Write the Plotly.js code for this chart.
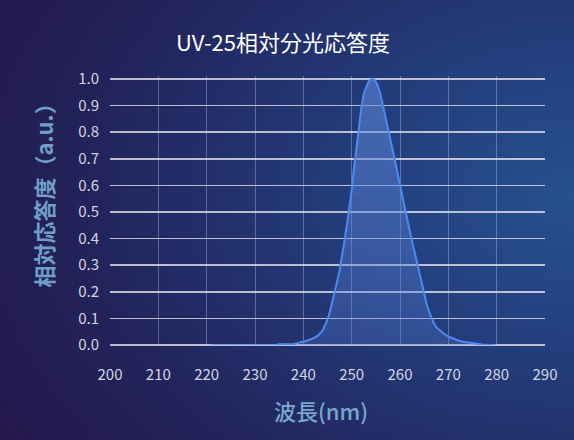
<!DOCTYPE html>
<html>
<head>
<meta charset="utf-8">
<script src="https://cdn.plot.ly/plotly-3.0.1.min.js"></script>
<style>
html, body { margin:0; padding:0; width:574px; height:440px; overflow:hidden; }
body { background: radial-gradient(ellipse 120% 110% at 100% 45%, #27508f 0%, #233c7a 35%, #22245c 70%, #25164a 100%); }
#chart { width:574px; height:440px; }
</style>
</head>
<body>
<div id="chart"></div>
<script>
const wavelength = [221,225,230,234,235,238,239,240,241,242,243,244,244.5,245,245.5,246,246.5,247,247.5,248,248.5,249,249.5,250,250.5,251,251.5,252,252.5,253,253.5,254,254.5,255,255.5,256,256.5,257,257.5,258,258.5,259,259.5,260,260.5,261,261.5,262,262.5,263,263.5,264,264.5,265,265.5,266,266.5,267,267.5,268,269,270,271,272,273,274,275,276,277,278,279,280];
const response = [-0.002,-0.002,-0.002,-0.001,0.003,0.004,0.008,0.012,0.018,0.025,0.035,0.055,0.072,0.095,0.125,0.16,0.2,0.24,0.28,0.33,0.39,0.45,0.51,0.58,0.665,0.74,0.82,0.893,0.945,0.97,0.99,0.998,1.0,0.99,0.97,0.94,0.9,0.86,0.815,0.77,0.73,0.69,0.645,0.6,0.56,0.52,0.475,0.43,0.39,0.35,0.31,0.265,0.225,0.19,0.155,0.125,0.1,0.082,0.067,0.058,0.043,0.032,0.023,0.017,0.012,0.009,0.006,0.004,0.002,0.001,-0.001,-0.002];
const titleText = 'UV-25相対分光応答度';
const xTitle = '波長(nm)';
const yTitle = '相対応答度（a.u.）';

const font = '"Noto Sans CJK JP", "Noto Sans", sans-serif';

const trace = {
  x: wavelength, y: response, type: 'scatter', mode: 'lines',
  line: {color: '#4d8af0', width: 2},
  fill: 'tozeroy',
  fillgradient: {type: 'vertical', start: 0, stop: 1,
    colorscale: [[0, 'rgba(80,120,210,0.30)'], [1, 'rgba(100,140,222,0.58)']]},
  hoverinfo: 'skip'
};

const layout = {
  width: 574, height: 440,
  paper_bgcolor: 'rgba(0,0,0,0)', plot_bgcolor: 'rgba(0,0,0,0)',
  margin: {l: 110, r: 29, t: 76, b: 95},
  font: {family: font, color: '#d4d5e0', size: 15},
  showlegend: false,
  title: {text: titleText, x: 0.493, xanchor: 'center', y: 0.902, yanchor: 'middle',
          font: {family: font, size: 22, color: '#ffffff'}},
  xaxis: {range: [200, 290], dtick: 10, tick0: 200, showgrid: true,
          gridcolor: 'rgba(255,255,255,0.28)', gridwidth: 1, zeroline: false, showline: false,
          ticks: '', ticklabelstandoff: 19, tickfont: {size: 15, color: '#d4d5e0'}},
  yaxis: {range: [0, 1.0113], tickvals: [0,0.1,0.2,0.3,0.4,0.5,0.6,0.7,0.8,0.9,1.0], tickformat: '.1f', showgrid: true,
          gridcolor: 'rgba(225,225,235,0.8)', gridwidth: 1.5, zeroline: true,
          zerolinecolor: 'rgba(225,225,235,0.8)', zerolinewidth: 1.5, showline: false,
          ticks: '', ticklabelstandoff: 10, tickfont: {size: 15, color: '#d4d5e0'}},
  annotations: [
    {text: yTitle, xref: 'paper', yref: 'paper', x: -0.154, y: 0.574, xanchor: 'center', yanchor: 'middle',
     textangle: -90, showarrow: false, font: {family: font, size: 22, weight: 'bold', color: '#6f9fc6'}},
    {text: xTitle, xref: 'paper', yref: 'paper', x: 0.484, y: -0.241, xanchor: 'center', yanchor: 'middle',
     showarrow: false, font: {family: font, size: 22, weight: 500, color: '#78a6cc'}}
  ]
};

Plotly.newPlot('chart', [trace], layout, {displayModeBar: false, staticPlot: true});
</script>
</body>
</html>
